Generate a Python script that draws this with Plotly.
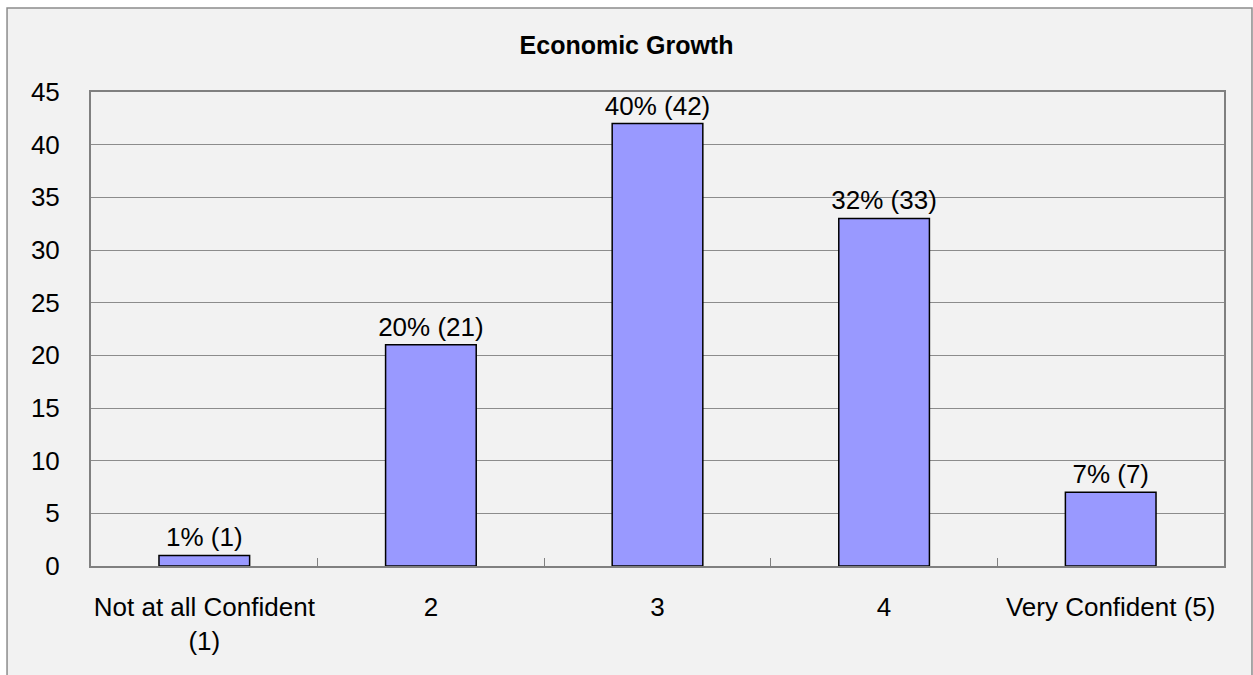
import plotly.graph_objects as go

# Survey responses: confidence in economic growth
categories = ["Not at all Confident<br>(1)", "2", "3", "4", "Very Confident (5)"]
counts = [1, 21, 42, 33, 7]
percents = ["1%", "20%", "40%", "32%", "7%"]
labels = [f"{p} ({c})" for p, c in zip(percents, counts)]

FONT = "Liberation Sans, Arial, sans-serif"

fig = go.Figure(
    go.Bar(
        x=categories,
        y=counts,
        text=labels,
        textposition="outside",
        constraintext="none",
        textfont=dict(family=FONT, size=26, color="#000000"),
        marker=dict(color="#9999ff", line=dict(color="#000000", width=1.5)),
        width=0.4,
        cliponaxis=False,
        hoverinfo="skip",
    )
)

# Outer chart frame
fig.add_shape(
    type="rect",
    xref="paper", yref="paper",
    x0=-0.0741, x1=1.0247, y0=-0.35, y1=1.1772,
    line=dict(color="#8c8c8c", width=1.5),
    fillcolor="#f2f2f2",
    layer="below",
)

fig.update_layout(
    width=1253,
    height=675,
    margin=dict(l=91, r=29, t=92, b=109, autoexpand=False),
    paper_bgcolor="#ffffff",
    plot_bgcolor="rgba(0,0,0,0)",
    font=dict(family=FONT, size=26, color="#000000"),
    title=dict(
        text="<b>Economic Growth</b>",
        x=0.5, xref="container", xanchor="center",
        y=0.933, yref="container", yanchor="middle",
        font=dict(family=FONT, size=25, color="#000000"),
    ),
    showlegend=False,
    uniformtext=dict(mode=False),
)

fig.update_xaxes(
    showgrid=False,
    showline=True, linecolor="#808080", linewidth=2, mirror=True,
    ticks="inside", tickson="boundaries", ticklen=8, tickcolor="#808080", tickwidth=1,
    ticklabelstandoff=17, tickangle=0, automargin=False,
    tickfont=dict(size=26),
)
fig.update_yaxes(
    range=[0, 45],
    tickmode="linear", tick0=0, dtick=5,
    showgrid=True, gridcolor="#8c8c8c", gridwidth=1,
    showline=True, linecolor="#808080", linewidth=2, mirror=True,
    ticks="", ticklabelstandoff=24, automargin=False,
    tickfont=dict(size=26),
    zeroline=False,
)

fig.write_html("out.html")
